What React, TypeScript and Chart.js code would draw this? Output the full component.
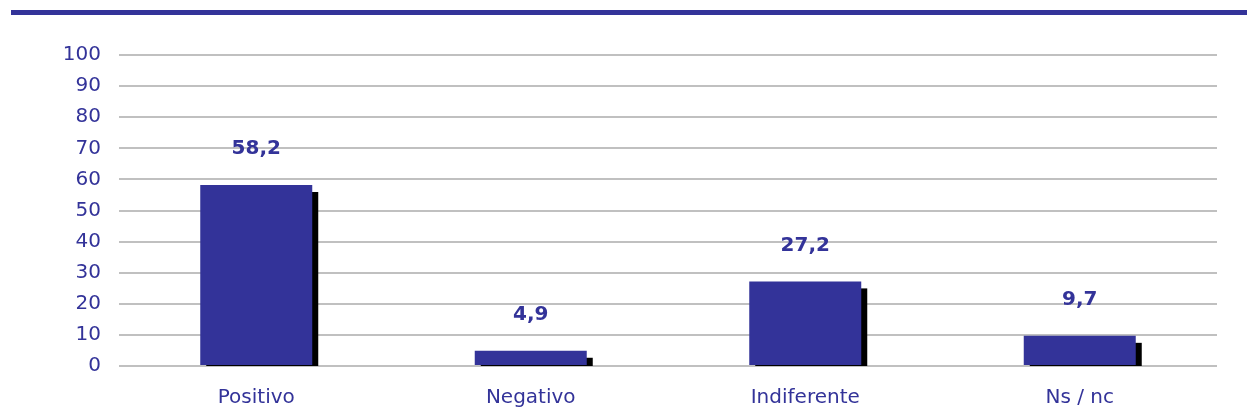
import React, { useEffect, useRef } from "react";
import { Chart, registerables } from "chart.js";

Chart.register(...registerables);

const categories = ["Positivo", "Negativo", "Indiferente", "Ns / nc"];
const values = [58.2, 4.9, 27.2, 9.7];
const yTicks = [0, 10, 20, 30, 40, 50, 60, 70, 80, 90, 100];

const BLUE = "#333399";
const FONT = "'DejaVu Sans', Verdana, sans-serif";

const shadowPlugin = {
  id: "barShadow",
  beforeDatasetsDraw(chart: any) {
    const ctx = chart.ctx;
    const meta = chart.getDatasetMeta(0);
    ctx.save();
    ctx.fillStyle = "#000000";
    meta.data.forEach((bar: any) => {
      const { x, y, base, width } = bar.getProps(["x", "y", "base", "width"], true);
      const left = x - width / 2 + 6;
      const top = y + 7;
      const bottom = base + 1;
      if (bottom > top) ctx.fillRect(left, top, width, bottom - top);
    });
    ctx.restore();
  },
  afterDatasetsDraw(chart: any) {
    const ctx = chart.ctx;
    const meta = chart.getDatasetMeta(0);
    ctx.save();
    ctx.fillStyle = BLUE;
    ctx.font = `bold 20px ${FONT}`;
    ctx.textAlign = "center";
    ctx.textBaseline = "middle";
    meta.data.forEach((bar: any, i: number) => {
      const { x, y } = bar.getProps(["x", "y"], true);
      ctx.fillText(values[i].toFixed(1).replace(".", ","), x, y - 36);
    });
    ctx.restore();
  },
};

export default function App() {
  const ref = useRef<HTMLCanvasElement | null>(null);
  useEffect(() => {
    if (!ref.current) return;
    const chart = new Chart(ref.current, {
      type: "bar",
      data: {
        labels: categories,
        datasets: [
          {
            data: values,
            backgroundColor: BLUE,
            borderWidth: 0,
            categoryPercentage: 1,
            barPercentage: 0.408,
          },
        ],
      },
      options: {
        animation: false,
        responsive: false,
        maintainAspectRatio: false,
        layout: { padding: { left: 0, right: 30, top: 55, bottom: 0 } },
        plugins: { legend: { display: false }, tooltip: { enabled: false } },
        scales: {
          x: {
            grid: { display: false, drawTicks: false },
            border: { display: false },
            ticks: { color: BLUE, font: { family: FONT, size: 20 }, padding: 20 },
            afterFit: (scale: any) => {
              scale.height = 50;
            },
          },
          y: {
            min: 0,
            max: 100,
            afterBuildTicks: (scale: any) => {
              scale.ticks = yTicks.map((v) => ({ value: v }));
            },
            afterFit: (scale: any) => {
              scale.width = 119;
            },
            grid: { color: "#c0c0c0", lineWidth: 2, drawTicks: false },
            border: { display: false },
            ticks: { color: BLUE, font: { family: FONT, size: 20 }, padding: 18 },
          },
        },
      },
      plugins: [shadowPlugin],
    });
    return () => chart.destroy();
  }, []);
  return (
    <div style={{ position: "absolute", left: 0, top: 0, width: 1247, height: 416, background: "#fff" }}>
      <div style={{ position: "absolute", left: 11, top: 10, width: 1236, height: 5, background: BLUE }} />
      <canvas ref={ref} width={1247} height={416} style={{ position: "absolute", left: 0, top: 0 }} />
    </div>
  );
}
